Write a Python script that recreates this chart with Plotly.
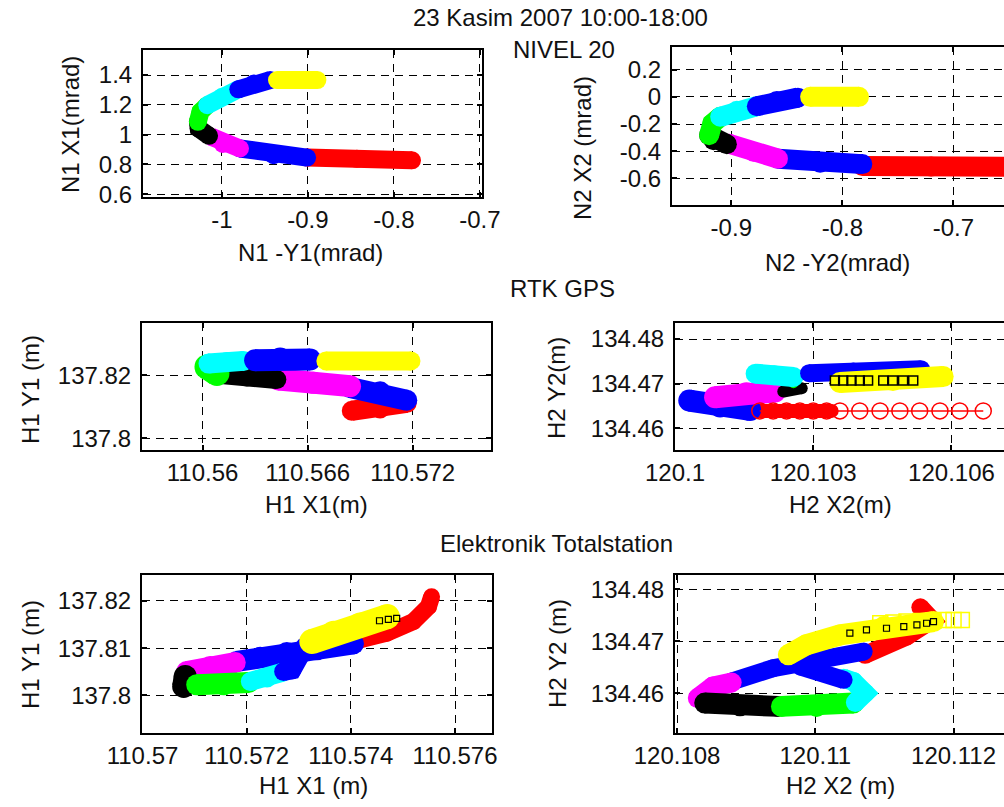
import plotly.graph_objects as go

# ---------------- DATA ----------------
# hourly segments 10-11 ... 17-18 (MATLAB colour order used in the figure)
SEG_COLORS = ["#ff0000", "#0000ff", "#ff00ff", "#000000", "#00ff00", "#00ffff", "#0000ff", "#ffff00"]

TITLE_MAIN = "23 Kasim 2007 10:00-18:00"
TITLE_NIVEL = "NIVEL 20"
TITLE_RTK = "RTK GPS"
TITLE_TS = "Elektronik Totalstation"

# Panel 1: NIVEL 20, sensor N1
N1_X = [[-0.779, -0.843, -0.901], [-0.901, -0.940, -0.979], [-0.979, -0.999, -1.012],
        [-1.015, -1.027, -1.028], [-1.028, -1.025, -1.017], [-1.017, -1.000, -0.981],
        [-0.981, -0.963, -0.944], [-0.936, -0.889]]
N1_Y = [[0.828, 0.838, 0.846], [0.846, 0.862, 0.907], [0.907, 0.938, 0.985],
        [0.992, 1.041, 1.086], [1.086, 1.153, 1.198], [1.198, 1.254, 1.304],
        [1.304, 1.344, 1.366], [1.366, 1.366]]
N1_XTICKS = [-1.0, -0.9, -0.8, -0.7]
N1_XTEXT = ["-1", "-0.9", "-0.8", "-0.7"]
N1_YTICKS = [0.6, 0.8, 1.0, 1.2, 1.4]
N1_YTEXT = ["0.6", "0.8", "1", "1.2", "1.4"]

# Panel 2: NIVEL 20, sensor N2
N2_X = [[-0.645, -0.720, -0.782], [-0.782, -0.820, -0.858], [-0.858, -0.880, -0.902],
        [-0.904, -0.916, -0.920], [-0.920, -0.917, -0.910], [-0.910, -0.895, -0.877],
        [-0.877, -0.859, -0.840], [-0.829, -0.785]]
N2_Y = [[-0.515, -0.512, -0.509], [-0.495, -0.485, -0.455], [-0.455, -0.404, -0.345],
        [-0.348, -0.319, -0.282], [-0.282, -0.196, -0.147], [-0.147, -0.103, -0.069],
        [-0.069, -0.030, -0.006], [0.0, 0.0]]
N2_XTICKS = [-0.9, -0.8, -0.7]
N2_XTEXT = ["-0.9", "-0.8", "-0.7"]
N2_YTICKS = [-0.6, -0.4, -0.2, 0.0, 0.2]
N2_YTEXT = ["-0.6", "-0.4", "-0.2", "0", "0.2"]

# Panel 3: RTK GPS, point H1
G1_X = [[110.56852, 110.57014, 110.57166], [110.57166, 110.57014, 110.56842],
        [110.56842, 110.56633, 110.56434], [110.56424, 110.56253, 110.56091],
        [110.56082, 110.56025], [110.56034, 110.56139, 110.56234],
        [110.56300, 110.56443, 110.56614], [110.56704, 110.57190]]
G1_Y = [[137.80874, 137.80947, 137.81126], [137.81211, 137.81474, 137.81611],
        [137.81653, 137.81758, 137.81863], [137.81863, 137.81947, 137.82032],
        [137.82053, 137.82263], [137.82368, 137.82421, 137.82453],
        [137.82474, 137.82526, 137.82495], [137.82453, 137.82453]]
G1_XTICKS = [110.56, 110.566, 110.572]
G1_XTEXT = ["110.56", "110.566", "110.572"]
G1_YTICKS = [137.80, 137.82]
G1_YTEXT = ["137.8", "137.82"]

# Panel 4: RTK GPS, point H2
G2_X = [[120.10177, 120.10340], [120.10163, 120.10098, 120.10031],
        [120.10087, 120.10155, 120.10217], [120.10235, 120.10275],
        [120.10257], [120.10257, 120.10215, 120.10175],
        [120.10291, 120.10387, 120.10534], [120.10358, 120.10473, 120.10582]]
G2_Y = [[134.46390, 134.46390], [134.46412, 134.46487, 134.46622],
        [134.46697, 134.46787, 134.46824], [134.46824, 134.46899],
        [134.47011], [134.47150, 134.47190, 134.47225],
        [134.47236, 134.47273, 134.47326], [134.47026, 134.47071, 134.47161]]
G2_RED_OPEN_X = [120.10184, 120.10213, 120.10242, 120.10271, 120.10300, 120.10329,
                 120.10358, 120.10401, 120.10445, 120.10488, 120.10531, 120.10575,
                 120.10618, 120.10669]
G2_RED_OPEN_Y = [134.46390] * 14
G2_BLACK_OPEN_X = [120.10347, 120.10365, 120.10383, 120.10401, 120.10419, 120.10452,
                   120.10473, 120.10495, 120.10517]
G2_BLACK_OPEN_Y = [134.47071] * 9
G2_XTICKS = [120.100, 120.103, 120.106]
G2_XTEXT = ["120.1", "120.103", "120.106"]
G2_YTICKS = [134.46, 134.47, 134.48]
G2_YTEXT = ["134.46", "134.47", "134.48"]

# Panel 5: total station, point H1
T1_X = [[110.57555, 110.57549, 110.57520, 110.57469, 110.57418],
        [110.57405, 110.57335, 110.57277, 110.57226, 110.57181],
        [110.57178, 110.57130, 110.57085], [110.57082, 110.57079],
        [110.57104, 110.57156, 110.57204], [110.57207, 110.57239, 110.57268],
        [110.57271, 110.57287, 110.57303, 110.57312],
        [110.57325, 110.57367, 110.57418, 110.57470]]
T1_Y = [[137.82090, 137.81880, 137.81563, 137.81317, 137.81176],
        [137.81092, 137.80965, 137.80908, 137.80810, 137.80718],
        [137.80697, 137.80613, 137.80507], [137.80401, 137.80190],
        [137.80225, 137.80225, 137.80275], [137.80296, 137.80366, 137.80486],
        [137.80507, 137.80542, 137.80859, 137.81035],
        [137.81141, 137.81317, 137.81493, 137.81669]]
T1_BLACK_OPEN_X = [110.57455, 110.57472, 110.57488]
T1_BLACK_OPEN_Y = [137.81580, 137.81610, 137.81630]
T1_XTICKS = [110.570, 110.572, 110.574, 110.576]
T1_XTEXT = ["110.57", "110.572", "110.574", "110.576"]
T1_YTICKS = [137.80, 137.81, 137.82]
T1_YTEXT = ["137.8", "137.81", "137.82"]

# Panel 6: total station, point H2
T2_X = [[120.11152, 120.11169, 120.11132, 120.11072],
        [120.11070, 120.10997, 120.10939, 120.10879],
        [120.10879, 120.10852, 120.10830], [120.10840, 120.10891, 120.10946],
        [120.10951, 120.11002, 120.11055], [120.11058, 120.11072, 120.11055, 120.11041],
        [120.11041, 120.11012, 120.10978],
        [120.10961, 120.10987, 120.11036, 120.11099, 120.11171]]
T2_Y = [[134.47654, 134.47410, 134.47090, 134.46737],
        [134.46801, 134.46654, 134.46481, 134.46224],
        [134.46205, 134.46128, 134.45904], [134.45808, 134.45756, 134.45744],
        [134.45744, 134.45744, 134.45808], [134.45820, 134.46000, 134.46224, 134.46288],
        [134.46256, 134.46385, 134.46513],
        [134.46737, 134.46930, 134.47122, 134.47282, 134.47378]]
T2_YELLOW_OPEN_X = [120.11094, 120.11113, 120.11132, 120.11152, 120.11171, 120.11186,
                    120.11200, 120.11212]
T2_YELLOW_OPEN_Y = [134.47346, 134.47359, 134.47378, 134.47391, 134.47397, 134.47410,
                    134.47410, 134.47410]
T2_BLACK_OPEN_X = [120.11050, 120.11074, 120.11103, 120.11128, 120.11147, 120.11161, 120.11171]
T2_BLACK_OPEN_Y = [134.47154, 134.47218, 134.47250, 134.47282, 134.47314, 134.47346, 134.47378]
T2_XTICKS = [120.108, 120.110, 120.112]
T2_XTEXT = ["120.108", "120.11", "120.112"]
T2_YTICKS = [134.46, 134.47, 134.48]
T2_YTEXT = ["134.46", "134.47", "134.48"]

# ---------------- STYLE / LAYOUT ----------------
W, H = 1004, 807
FONT = "Liberation Sans, Arial, sans-serif"
FS = 24
TXT = "#111111"


def px(x):
    return x / W


def py(y):
    return 1 - y / H


panels = [
    dict(n="", X=N1_X, Y=N1_Y, xt=N1_XTICKS, xs=N1_XTEXT, yt=N1_YTICKS, ys=N1_YTEXT,
         dom=(143, 482, 50, 197), xr=(-1.0918, -0.6976), yr=(0.5816, 1.568),
         w=[18] * 8, cut=False),
    dict(n="2", X=N2_X, Y=N2_Y, xt=N2_XTICKS, xs=N2_XTEXT, yt=N2_YTICKS, ys=N2_YTEXT,
         dom=(672, 1004, 47, 205), xr=(-0.9534, -0.6544), yr=(-0.7957, 0.3664),
         w=[20] * 8, cut=True),
    dict(n="3", X=G1_X, Y=G1_Y, xt=G1_XTICKS, xs=G1_XTEXT, yt=G1_YTICKS, ys=G1_YTEXT,
         dom=(142, 491, 323, 450), xr=(110.55654, 110.57647), yr=(137.79632, 137.83653),
         w=[20, 21, 22, 19, 25, 20, 22, 19], cut=False),
    dict(n="4", X=G2_X, Y=G2_Y, xt=G2_XTICKS, xs=G2_XTEXT, yt=G2_YTICKS, ys=G2_YTEXT,
         dom=(675, 1004, 323, 450), xr=(120.1, 120.10714), yr=(134.45513, 134.48360),
         w=[14, 22, 22, 12, 10, 20, 18, 21], cut=True),
    dict(n="5", X=T1_X, Y=T1_Y, xt=T1_XTICKS, xs=T1_XTEXT, yt=T1_YTICKS, ys=T1_YTEXT,
         dom=(142, 492, 575, 733), xr=(110.56999, 110.57671), yr=(137.79204, 137.82549),
         w=[17, 21, 21, 23, 21, 19, 19, 25], cut=False),
    dict(n="6", X=T2_X, Y=T2_Y, xt=T2_XTICKS, xs=T2_XTEXT, yt=T2_YTICKS, ys=T2_YTEXT,
         dom=(675, 1004, 575, 733), xr=(120.10797, 120.11273), yr=(134.45231, 134.48276),
         w=[18, 18, 20, 21, 21, 19, 18, 21], cut=True),
]

fig = go.Figure()
layout = dict(template="none", width=W, height=H,
              margin=dict(l=0, r=0, t=0, b=0, pad=0, autoexpand=False),
              paper_bgcolor="white", plot_bgcolor="white", showlegend=False,
              font=dict(family=FONT, size=FS, color=TXT))

for p in panels:
    n = p["n"]
    xa, ya = "x" + n, "y" + n
    for i, (xs, ys) in enumerate(zip(p["X"], p["Y"])):
        c = SEG_COLORS[i]
        w = p["w"][i]
        fig.add_trace(go.Scatter(x=xs, y=ys, xaxis=xa, yaxis=ya, mode="lines+markers",
                                 line=dict(color=c, width=w),
                                 marker=dict(color=c, size=w, line=dict(width=0)),
                                 hoverinfo="skip"))
    x0, x1, y0, y1 = p["dom"]
    gridkw = dict(showgrid=True, gridcolor="#000000", gridwidth=1.3, griddash="8px,6px",
                  zeroline=False, showline=True, linecolor="#000000", linewidth=2,
                  ticks="inside", ticklen=5, tickwidth=1.5, tickcolor="#000000",
                  automargin=False,
                  tickfont=dict(family=FONT, size=FS, color=TXT))
    layout["xaxis" + n] = dict(domain=[px(x0), min(1.0, px(x1))], range=list(p["xr"]),
                               anchor=ya, tickvals=p["xt"], ticktext=p["xs"],
                               mirror="ticks", ticklabelstandoff=0, **gridkw)
    layout["yaxis" + n] = dict(domain=[py(y1), py(y0)], range=list(p["yr"]),
                               anchor=xa, tickvals=p["yt"], ticktext=p["ys"],
                               mirror=False if p["cut"] else "ticks",
                               ticklabelstandoff=4, **gridkw)

# thin red line through the open-circle chain of panel 4
fig.add_trace(go.Scatter(x=G2_RED_OPEN_X, y=G2_RED_OPEN_Y, xaxis="x4", yaxis="y4", mode="lines",
                         line=dict(color="#ff0000", width=1.5), hoverinfo="skip"))

# extra open-marker series
extra = [
    ("4", G2_RED_OPEN_X, G2_RED_OPEN_Y, "circle-open", 16, "#ff0000", 1.5),
    ("4", G2_BLACK_OPEN_X, G2_BLACK_OPEN_Y, "square-open", 9, "#000000", 1.5),
    ("5", T1_BLACK_OPEN_X, T1_BLACK_OPEN_Y, "square-open", 6, "#000000", 1.2),
    ("6", T2_YELLOW_OPEN_X, T2_YELLOW_OPEN_Y, "square-open", 15, "#ffff00", 1.5),
    ("6", T2_BLACK_OPEN_X, T2_BLACK_OPEN_Y, "square-open", 6, "#000000", 1.2),
]
for n, xs, ys, sym, sz, col, lw in extra:
    fig.add_trace(go.Scatter(x=xs, y=ys, xaxis="x" + n, yaxis="y" + n, mode="markers",
                             marker=dict(symbol=sym, size=sz, color=col, line=dict(color=col, width=lw)),
                             hoverinfo="skip"))

# texts: (text, x px, y px, angle)
texts = [
    (TITLE_MAIN, 560, 18, 0),
    (TITLE_NIVEL, 564, 49, 0),
    (TITLE_RTK, 562, 288, 0),
    (TITLE_TS, 556, 543, 0),
    ("N1 -Y1(mrad)", 310, 253, 0),
    ("N2 -Y2(mrad)", 837, 262, 0),
    ("H1 X1(m)", 316, 504, 0),
    ("H2 X2(m)", 840, 504, 0),
    ("H1 X1 (m)", 313, 785, 0),
    ("H2 X2 (m)", 840, 785, 0),
    ("N1 X1(mrad)", 70, 125, -90),
    ("N2 X2 (mrad)", 583, 148, -90),
    ("H1 Y1 (m)", 30, 390, -90),
    ("H2 Y2(m)", 557, 388, -90),
    ("H1 Y1 (m)", 30, 655, -90),
    ("H2 Y2 (m)", 557, 654, -90),
]
anns = []
for t, x, y, a in texts:
    anns.append(dict(text=t, x=px(x), y=py(y), xref="paper", yref="paper",
                     xanchor="center", yanchor="middle", showarrow=False, textangle=a,
                     font=dict(family=FONT, size=FS, color=TXT)))
layout["annotations"] = anns

fig.update_layout(**layout)
fig.write_html("out.html", config={"displayModeBar": False},
               post_script="document.body.style.margin='0';")
